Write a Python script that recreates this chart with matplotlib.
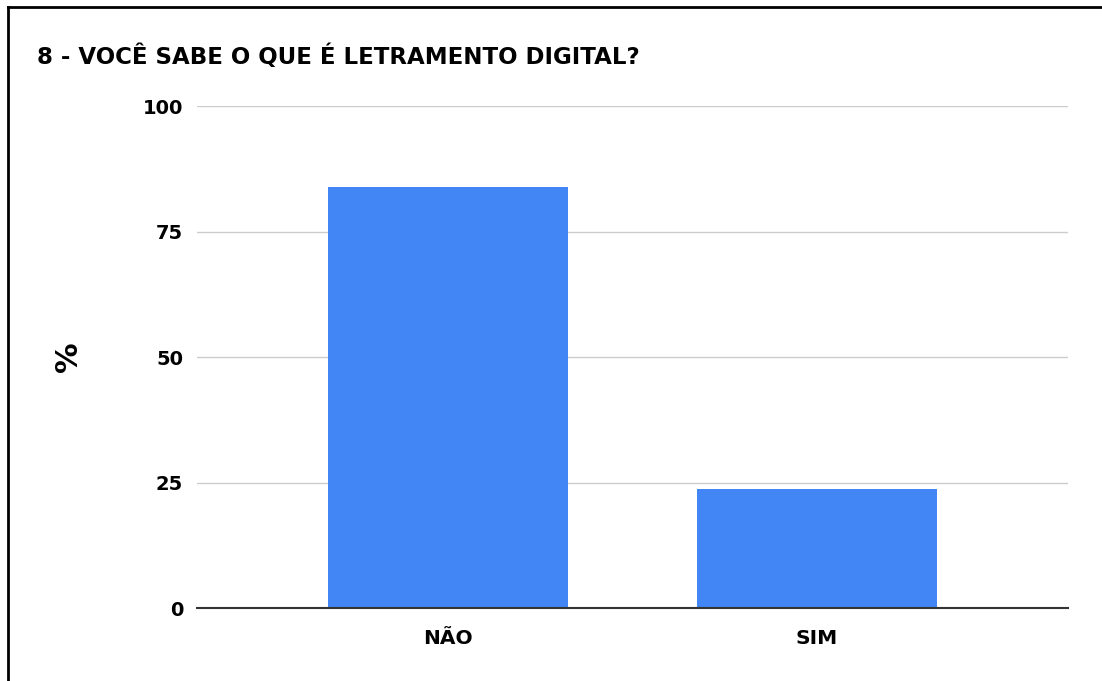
import matplotlib.pyplot as plt
from matplotlib.lines import Line2D

# data
categories = ['NÃO', 'SIM']
values = [83.8, 23.7]
yticks = [0, 25, 50, 75, 100]
title = '8 - VOCÊ SABE O QUE É LETRAMENTO DIGITAL?'

plt.rcParams['font.family'] = ['DejaVu Sans']

fig = plt.figure(figsize=(11.02, 6.81), dpi=100)
W, H = 1102, 681
# axes placed in pixel terms: left 197, right 1068, top 106, bottom 608
ax = fig.add_axes([197 / W, 1 - 608 / H, (1068 - 197) / W, (608 - 106) / H])

pos = list(range(len(categories)))
ax.bar(pos, values, width=0.65, color='#4285F4', zorder=3)

ax.set_xlim(-0.68, 1.68)
ax.set_ylim(0, 100)
ax.set_yticks(yticks)
ax.set_yticklabels([str(t) for t in yticks], fontsize=14, fontweight='bold')
ax.set_xticks(pos)
ax.set_xticklabels(categories, fontsize=14.5, fontweight='bold')
ax.tick_params(axis='both', length=0)
ax.tick_params(axis='y', pad=10)
ax.tick_params(axis='x', pad=15)

ax.grid(axis='y', color='#cccccc', linewidth=1, zorder=0)
for s in ['top', 'right', 'left']:
    ax.spines[s].set_visible(False)
ax.spines['bottom'].set_color('#333333')
ax.spines['bottom'].set_linewidth(1.5)
ax.spines['bottom'].set_zorder(4)

ax.set_ylabel('%', fontsize=22, fontweight='bold', labelpad=43)

fig.text(37 / W, 1 - 57 / H, title, fontsize=16.5, fontweight='bold',
         va='center', ha='left')

# partial frame (top and left edges of the screenshot border)
fig.add_artist(Line2D([8 / W, 8 / W], [0, 1 - 7 / H], transform=fig.transFigure,
                      color='black', linewidth=2))
fig.add_artist(Line2D([8 / W, 1], [1 - 7 / H, 1 - 7 / H], transform=fig.transFigure,
                      color='black', linewidth=2))

fig.savefig('out.png', dpi=100)
